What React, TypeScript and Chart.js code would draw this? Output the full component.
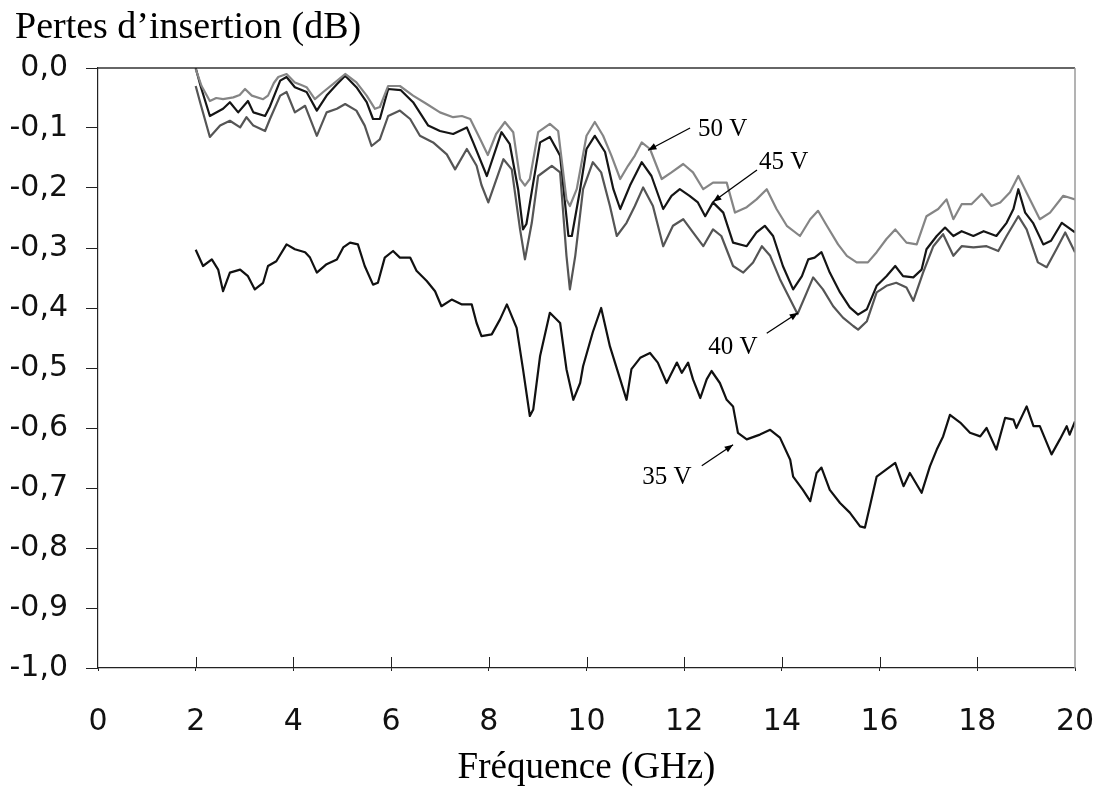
import React, { useEffect, useRef } from "react";
import { Chart, registerables } from "chart.js";

Chart.register(...registerables);

// ---------- Data ----------
const freq50 = [2.0, 2.12, 2.29, 2.42, 2.56, 2.77, 2.9, 3.01, 3.15, 3.38, 3.48, 3.6, 3.69, 3.86, 4.03, 4.15, 4.27, 4.44, 4.61, 4.81, 5.06, 5.29, 5.5, 5.67, 5.77, 5.94, 6.18, 6.45, 6.73, 7.0, 7.27, 7.45, 7.62, 7.82, 7.98, 8.15, 8.33, 8.5, 8.64, 8.74, 8.84, 9.01, 9.25, 9.42, 9.59, 9.66, 9.8, 10.0, 10.17, 10.34, 10.51, 10.69, 10.85, 10.99, 11.13, 11.3, 11.54, 11.74, 11.98, 12.18, 12.39, 12.59, 12.87, 13.04, 13.28, 13.48, 13.69, 13.89, 14.1, 14.37, 14.58, 14.74, 14.92, 15.15, 15.33, 15.53, 15.76, 15.94, 16.14, 16.32, 16.55, 16.76, 16.96, 17.2, 17.37, 17.51, 17.68, 17.88, 18.09, 18.29, 18.47, 18.67, 18.84, 19.04, 19.28, 19.49, 19.76, 20.0];
const loss50 = [-0.002, -0.03, -0.055, -0.05, -0.052, -0.049, -0.045, -0.035, -0.046, -0.052, -0.046, -0.025, -0.015, -0.01, -0.024, -0.028, -0.032, -0.052, -0.04, -0.027, -0.01, -0.024, -0.046, -0.068, -0.065, -0.03, -0.03, -0.046, -0.06, -0.074, -0.082, -0.08, -0.085, -0.118, -0.145, -0.11, -0.09, -0.107, -0.185, -0.196, -0.185, -0.107, -0.093, -0.105, -0.219, -0.23, -0.202, -0.113, -0.09, -0.113, -0.146, -0.185, -0.163, -0.146, -0.124, -0.135, -0.185, -0.174, -0.16, -0.174, -0.202, -0.191, -0.191, -0.241, -0.232, -0.219, -0.202, -0.235, -0.263, -0.28, -0.252, -0.238, -0.263, -0.294, -0.313, -0.324, -0.324, -0.307, -0.285, -0.269, -0.291, -0.294, -0.247, -0.235, -0.219, -0.252, -0.227, -0.227, -0.21, -0.23, -0.224, -0.207, -0.18, -0.213, -0.252, -0.241, -0.213, -0.219];

const freq45 = [2.0, 2.1, 2.29, 2.56, 2.7, 2.87, 3.07, 3.18, 3.42, 3.52, 3.73, 3.86, 4.03, 4.27, 4.48, 4.68, 4.89, 5.06, 5.29, 5.5, 5.63, 5.77, 5.94, 6.2, 6.45, 6.76, 7.0, 7.27, 7.55, 7.68, 7.96, 8.26, 8.43, 8.6, 8.7, 8.77, 8.91, 9.05, 9.25, 9.46, 9.63, 9.7, 9.87, 10.0, 10.17, 10.38, 10.55, 10.69, 10.89, 11.13, 11.33, 11.57, 11.74, 11.91, 12.11, 12.28, 12.43, 12.59, 12.8, 13.0, 13.28, 13.48, 13.65, 13.82, 14.02, 14.23, 14.41, 14.54, 14.67, 14.81, 14.98, 15.19, 15.39, 15.56, 15.74, 15.94, 16.14, 16.32, 16.48, 16.69, 16.86, 16.96, 17.17, 17.34, 17.51, 17.68, 17.92, 18.13, 18.39, 18.6, 18.74, 18.84, 18.98, 19.14, 19.35, 19.51, 19.73, 20.0];
const loss45 = [0.0, -0.03, -0.08, -0.068, -0.057, -0.074, -0.055, -0.074, -0.08, -0.064, -0.021, -0.015, -0.032, -0.04, -0.071, -0.046, -0.027, -0.013, -0.032, -0.057, -0.085, -0.085, -0.035, -0.037, -0.057, -0.096, -0.105, -0.11, -0.099, -0.124, -0.18, -0.107, -0.127, -0.202, -0.269, -0.26, -0.191, -0.124, -0.115, -0.146, -0.28, -0.28, -0.202, -0.135, -0.113, -0.14, -0.202, -0.235, -0.196, -0.157, -0.18, -0.235, -0.213, -0.202, -0.213, -0.224, -0.247, -0.224, -0.241, -0.291, -0.297, -0.274, -0.263, -0.28, -0.33, -0.369, -0.347, -0.319, -0.316, -0.307, -0.341, -0.374, -0.399, -0.411, -0.402, -0.363, -0.347, -0.33, -0.347, -0.349, -0.336, -0.302, -0.28, -0.266, -0.28, -0.272, -0.28, -0.272, -0.28, -0.258, -0.235, -0.202, -0.241, -0.258, -0.294, -0.288, -0.258, -0.274];

const freq40 = [2.0, 2.1, 2.29, 2.5, 2.7, 2.91, 3.04, 3.18, 3.42, 3.52, 3.73, 3.86, 4.03, 4.24, 4.48, 4.68, 4.89, 5.06, 5.29, 5.46, 5.6, 5.77, 5.94, 6.18, 6.39, 6.59, 6.86, 7.14, 7.31, 7.55, 7.75, 7.85, 7.99, 8.3, 8.47, 8.64, 8.74, 8.88, 9.01, 9.29, 9.46, 9.59, 9.66, 9.77, 9.93, 10.13, 10.3, 10.48, 10.62, 10.82, 10.99, 11.16, 11.36, 11.57, 11.77, 11.98, 12.18, 12.39, 12.59, 12.76, 13.0, 13.21, 13.41, 13.59, 13.76, 13.96, 14.17, 14.32, 14.51, 14.64, 14.84, 15.05, 15.25, 15.46, 15.56, 15.74, 15.94, 16.14, 16.34, 16.55, 16.69, 16.89, 17.1, 17.3, 17.51, 17.68, 17.92, 18.19, 18.43, 18.6, 18.84, 19.01, 19.24, 19.42, 19.62, 19.8, 20.0];
const loss40 = [-0.03, -0.06, -0.115, -0.096, -0.088, -0.099, -0.082, -0.096, -0.105, -0.085, -0.046, -0.04, -0.074, -0.063, -0.113, -0.074, -0.068, -0.06, -0.071, -0.096, -0.13, -0.119, -0.08, -0.071, -0.085, -0.113, -0.124, -0.144, -0.169, -0.135, -0.163, -0.195, -0.224, -0.152, -0.169, -0.269, -0.319, -0.258, -0.18, -0.163, -0.174, -0.313, -0.369, -0.313, -0.202, -0.157, -0.174, -0.23, -0.28, -0.258, -0.23, -0.199, -0.23, -0.297, -0.263, -0.252, -0.274, -0.297, -0.269, -0.28, -0.33, -0.341, -0.324, -0.297, -0.313, -0.352, -0.386, -0.41, -0.374, -0.349, -0.369, -0.397, -0.416, -0.43, -0.436, -0.422, -0.374, -0.363, -0.358, -0.366, -0.388, -0.341, -0.297, -0.277, -0.313, -0.297, -0.299, -0.297, -0.305, -0.28, -0.247, -0.269, -0.324, -0.332, -0.302, -0.274, -0.307];

const freq35 = [2.0, 2.15, 2.33, 2.46, 2.56, 2.7, 2.91, 3.07, 3.21, 3.38, 3.48, 3.65, 3.86, 4.03, 4.24, 4.34, 4.48, 4.68, 4.89, 5.02, 5.16, 5.32, 5.46, 5.63, 5.73, 5.87, 6.04, 6.18, 6.39, 6.52, 6.73, 6.9, 7.03, 7.24, 7.45, 7.65, 7.75, 7.85, 8.06, 8.23, 8.37, 8.57, 8.7, 8.84, 8.91, 9.05, 9.25, 9.46, 9.59, 9.73, 9.87, 9.93, 10.13, 10.3, 10.48, 10.69, 10.82, 10.92, 11.1, 11.3, 11.46, 11.64, 11.85, 11.95, 12.08, 12.18, 12.33, 12.46, 12.56, 12.73, 12.87, 13.0, 13.1, 13.28, 13.55, 13.76, 13.96, 14.17, 14.23, 14.43, 14.58, 14.71, 14.81, 14.98, 15.19, 15.39, 15.6, 15.7, 15.8, 15.94, 16.14, 16.32, 16.49, 16.62, 16.86, 17.03, 17.17, 17.3, 17.44, 17.65, 17.85, 18.06, 18.19, 18.39, 18.57, 18.74, 18.8, 19.01, 19.15, 19.28, 19.52, 19.69, 19.83, 19.89, 20.0];
const loss35 = [-0.303, -0.33, -0.319, -0.336, -0.372, -0.341, -0.336, -0.347, -0.369, -0.358, -0.33, -0.322, -0.294, -0.302, -0.307, -0.316, -0.341, -0.327, -0.319, -0.299, -0.291, -0.294, -0.33, -0.361, -0.358, -0.316, -0.305, -0.316, -0.316, -0.338, -0.355, -0.372, -0.397, -0.386, -0.394, -0.394, -0.425, -0.447, -0.444, -0.419, -0.394, -0.433, -0.502, -0.58, -0.569, -0.48, -0.408, -0.425, -0.502, -0.553, -0.525, -0.497, -0.44, -0.4, -0.464, -0.519, -0.553, -0.502, -0.483, -0.475, -0.491, -0.525, -0.491, -0.508, -0.491, -0.519, -0.55, -0.519, -0.505, -0.525, -0.553, -0.564, -0.608, -0.619, -0.611, -0.603, -0.616, -0.653, -0.681, -0.703, -0.722, -0.675, -0.666, -0.703, -0.725, -0.741, -0.764, -0.766, -0.731, -0.681, -0.669, -0.658, -0.697, -0.675, -0.708, -0.664, -0.636, -0.614, -0.578, -0.591, -0.608, -0.614, -0.6, -0.636, -0.583, -0.586, -0.6, -0.564, -0.597, -0.597, -0.644, -0.619, -0.597, -0.611, -0.589];

// Annotations (data coordinates)
const noteText = ["50 V", "45 V", "40 V", "35 V"];
const noteFreq = [12.28, 13.53, 12.49, 11.14];
const noteLoss = [-0.102, -0.157, -0.465, -0.683];
const arrowFromFreq = [12.12, 13.49, 13.69, 12.36];
const arrowFromLoss = [-0.1, -0.17, -0.442, -0.663];
const arrowToFreq = [11.26, 12.59, 14.33, 13.0];
const arrowToLoss = [-0.137, -0.223, -0.408, -0.628];

const yTitle = "Pertes d\u2019insertion (dB)";
const xTitle = "Fréquence (GHz)";

const toPoints = (xs: number[], ys: number[]) => xs.map((x, i) => ({ x, y: ys[i] }));

const overlayPlugin = {
  id: "overlay",
  afterDraw(chart: any) {
    const { ctx, chartArea, scales } = chart;
    const xs = scales.x;
    const ys = scales.y;
    ctx.save();
    // top frame line
    ctx.strokeStyle = "#333";
    ctx.lineWidth = 1.5;
    ctx.beginPath();
    ctx.moveTo(chartArea.left, chartArea.top);
    ctx.lineTo(chartArea.right, chartArea.top);
    ctx.stroke();
    // right frame line
    ctx.strokeStyle = "#9a9a9a";
    ctx.lineWidth = 1.5;
    ctx.beginPath();
    ctx.moveTo(chartArea.right, chartArea.top);
    ctx.lineTo(chartArea.right, chartArea.bottom);
    ctx.stroke();
    // inner part of x tick marks
    ctx.strokeStyle = "#222";
    ctx.lineWidth = 1;
    xs.ticks.forEach((t: any) => {
      const px = Math.round(xs.getPixelForValue(t.value)) + 0.5;
      if (px <= chartArea.left + 1 || px >= chartArea.right - 1) return;
      ctx.beginPath();
      ctx.moveTo(px, chartArea.bottom);
      ctx.lineTo(px, chartArea.bottom - 11);
      ctx.stroke();
    });
    // y title (top-left)
    ctx.fillStyle = "#000";
    ctx.font = '38px "Liberation Serif", serif';
    ctx.textAlign = "left";
    ctx.textBaseline = "alphabetic";
    ctx.fillText(yTitle, 15, 38);
    // annotations
    ctx.font = '25px "Liberation Serif", serif';
    ctx.textBaseline = "middle";
    noteText.forEach((txt, i) => {
      ctx.fillStyle = "#000";
      ctx.fillText(txt, xs.getPixelForValue(noteFreq[i]), ys.getPixelForValue(noteLoss[i]));
      const x1 = xs.getPixelForValue(arrowFromFreq[i]);
      const y1 = ys.getPixelForValue(arrowFromLoss[i]);
      const x2 = xs.getPixelForValue(arrowToFreq[i]);
      const y2 = ys.getPixelForValue(arrowToLoss[i]);
      ctx.strokeStyle = "#000";
      ctx.lineWidth = 1.3;
      ctx.beginPath();
      ctx.moveTo(x1, y1);
      ctx.lineTo(x2, y2);
      ctx.stroke();
      const ang = Math.atan2(y2 - y1, x2 - x1);
      const len = 9;
      ctx.beginPath();
      ctx.moveTo(x2, y2);
      ctx.lineTo(x2 - len * Math.cos(ang - 0.38), y2 - len * Math.sin(ang - 0.38));
      ctx.lineTo(x2 - len * Math.cos(ang + 0.38), y2 - len * Math.sin(ang + 0.38));
      ctx.closePath();
      ctx.fill();
    });
    ctx.restore();
  },
};

export default function App() {
  const ref = useRef<HTMLCanvasElement | null>(null);
  useEffect(() => {
    if (!ref.current) return;
    const lineDs = (label: string, xs: number[], ys: number[], color: string, w: number) => ({
      label,
      data: toPoints(xs, ys),
      borderColor: color,
      backgroundColor: color,
      borderWidth: w,
      pointRadius: 0,
      tension: 0,
      fill: false,
      borderJoinStyle: "round" as const,
    });
    const chart = new Chart(ref.current, {
      type: "line",
      data: {
        datasets: [
          lineDs("50 V", freq50, loss50, "#858585", 2.2),
          lineDs("40 V", freq40, loss40, "#555555", 2.2),
          lineDs("45 V", freq45, loss45, "#151515", 2.2),
          lineDs("35 V", freq35, loss35, "#111111", 2.2),
        ],
      },
      options: {
        animation: false,
        responsive: false,
        maintainAspectRatio: false,
        layout: { padding: { left: 0, top: 68, right: 24, bottom: 0 } },
        plugins: { legend: { display: false }, tooltip: { enabled: false }, title: { display: false } },
        scales: {
          x: {
            type: "linear",
            min: 0,
            max: 20,
            ticks: {
              stepSize: 2,
              autoSkip: false,
              maxRotation: 0,
              padding: 33,
              color: "#111",
              font: { family: '"DejaVu Sans", sans-serif', size: 30 },
              callback: (v: any) => String(v),
            },
            grid: { drawOnChartArea: false, drawTicks: true, tickLength: 3, color: "#222", lineWidth: 1 },
            border: { display: true, color: "#222", width: 1.2 },
            title: {
              display: true,
              text: xTitle,
              color: "#000",
              font: { family: '"Liberation Serif", serif', size: 37, lineHeight: 1 },
              padding: { top: 0, bottom: 2 },
            },
            afterFit: (s: any) => {
              s.height = 121;
              s.paddingLeft = 0;
              s.paddingRight = 0;
            },
          },
          y: {
            type: "linear",
            min: -1,
            max: 0,
            ticks: {
              stepSize: 0.1,
              padding: 18,
              color: "#111",
              font: { family: '"DejaVu Sans", sans-serif', size: 30 },
              callback: (v: any) => (Math.abs(Number(v)) < 1e-9 ? "0,0" : Number(v).toFixed(1).replace(".", ",")),
            },
            grid: { drawOnChartArea: false, drawTicks: true, tickLength: 12, color: "#222", lineWidth: 1 },
            border: { display: true, color: "#222", width: 1.2 },
            afterFit: (s: any) => {
              s.width = 98;
              s.paddingTop = 0;
              s.paddingBottom = 0;
            },
          },
        },
      },
      plugins: [overlayPlugin],
    });
    return () => chart.destroy();
  }, []);
  return (
    <div style={{ position: "fixed", left: 0, top: 0, width: 1099, height: 789, background: "#fff" }}>
      <canvas ref={ref} width={1099} height={789} style={{ display: "block", width: 1099, height: 789 }} />
    </div>
  );
}
